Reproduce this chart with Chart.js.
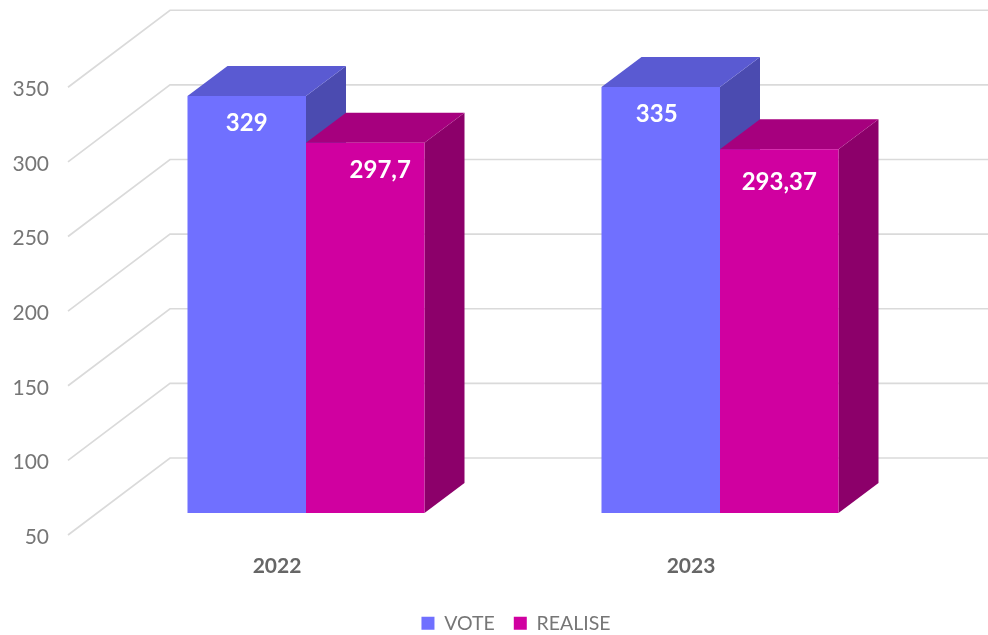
<!DOCTYPE html>
<html>
<head>
<meta charset="utf-8">
<style>html,body{margin:0;padding:0;background:#fff}#wrap{width:988px;height:635px}</style>
<script src="https://cdn.jsdelivr.net/npm/chart.js@4"></script>
</head>
<body>
<div id="wrap"><canvas id="c" width="988" height="635"></canvas></div>
<script>
const categories = ['2022', '2023'];
const voteValues = [329, 335];
const realiseValues = [297.7, 293.37];
const seriesNames = ['VOTE', 'REALISE'];

const FONT = 'Lato, "Open Sans", sans-serif';
const DEPTH_X = 40, DEPTH_Y = -30;          // bar extrusion
const WALL_X = 102, WALL_Y = -77;           // back wall offset
const WALL_LEFT_GAP = 31;                   // front end of floor lines, left of plot
const LEGEND_SHIFT = 22;
const faceColors = [
  {front: '#7070FF', top: '#5A5AD2', side: '#4B4BB0'},
  {front: '#D000A0', top: '#A6007E', side: '#8C006A'}
];
// label nudges from the bar top centre: [dataset][category] = [dx, dy]
const labelNudges = [
  [[0, 27], [-4, 27]],
  [[15, 27], [0, 33]]
];

const legendFit = {
  id: 'legendFit',
  beforeInit(chart) {
    const l = chart.legend, orig = l.fit;
    l.fit = function () { orig.call(this); this.height = 40.5; };
  },
  afterLayout(chart) {
    chart.legend.left += LEGEND_SHIFT;
    chart.legend.right += LEGEND_SHIFT;
  }
};

const walls3d = {
  id: 'walls3d',
  beforeDatasetsDraw(chart) {
    const {ctx, chartArea, scales} = chart;
    const s = scales.yWall, x0 = chartArea.left - WALL_LEFT_GAP;
    ctx.save();
    ctx.strokeStyle = '#dadada';
    ctx.lineWidth = 1.7;
    s.ticks.forEach(t => {
      if (t.value > 350) return;
      const p = s.getPixelForValue(t.value);
      ctx.beginPath();
      ctx.moveTo(x0, p);
      ctx.lineTo(x0 + WALL_X, p + WALL_Y);
      ctx.lineTo(chart.width, p + WALL_Y);
      ctx.stroke();
    });
    // extruded faces, drawn behind the library's front faces
    chart.data.datasets.forEach((ds, di) => {
      const c = faceColors[di];
      chart.getDatasetMeta(di).data.forEach(bar => {
        const l = bar.x - bar.width / 2, r = bar.x + bar.width / 2, t = bar.y, b = bar.base;
        ctx.fillStyle = c.side;
        ctx.beginPath();
        ctx.moveTo(r, t); ctx.lineTo(r + DEPTH_X, t + DEPTH_Y);
        ctx.lineTo(r + DEPTH_X, b + DEPTH_Y); ctx.lineTo(r, b);
        ctx.closePath(); ctx.fill();
        ctx.fillStyle = c.top;
        ctx.beginPath();
        ctx.moveTo(l, t); ctx.lineTo(l + DEPTH_X, t + DEPTH_Y);
        ctx.lineTo(r + DEPTH_X, t + DEPTH_Y); ctx.lineTo(r, t);
        ctx.closePath(); ctx.fill();
      });
    });
    ctx.restore();
  }
};

const valueLabels = {
  id: 'valueLabels',
  afterDatasetsDraw(chart) {
    const {ctx} = chart;
    ctx.save();
    ctx.fillStyle = '#fff';
    ctx.font = 'bold 24px ' + FONT;
    ctx.textAlign = 'center';
    ctx.textBaseline = 'middle';
    chart.data.datasets.forEach((ds, di) => {
      chart.getDatasetMeta(di).data.forEach((bar, i) => {
        const n = labelNudges[di][i];
        ctx.fillText(String(ds.data[i]).replace('.', ','), bar.x + n[0], bar.y + n[1]);
      });
    });
    ctx.restore();
  }
};

new Chart(document.getElementById('c'), {
  type: 'bar',
  data: {
    labels: categories,
    datasets: [
      {label: seriesNames[0], data: voteValues, base: 50, backgroundColor: faceColors[0].front, yAxisID: 'y', categoryPercentage: 0.5725, barPercentage: 1},
      {label: seriesNames[1], data: realiseValues, base: 50, backgroundColor: faceColors[1].front, yAxisID: 'y', categoryPercentage: 0.5725, barPercentage: 1}
    ]
  },
  plugins: [legendFit, walls3d, valueLabels],
  options: {
    responsive: false,
    animation: false,
    layout: {padding: {top: 12.6, right: 0, left: 0, bottom: 0}},
    plugins: {
      tooltip: {enabled: false},
      legend: {
        position: 'bottom',
        labels: {
          boxWidth: 13, boxHeight: 13, padding: 19,
          color: '#767676',
          font: {family: FONT, size: 19.5}
        }
      }
    },
    scales: {
      x: {
        grid: {display: false, drawTicks: false},
        border: {display: false},
        ticks: {
          labelOffset: -29, padding: 19,
          color: '#666666',
          font: {family: FONT, size: 21, weight: 'bold'}
        },
        afterFit(scale) { scale.height = 59.5; scale.paddingLeft = 0; scale.paddingRight = 0; }
      },
      y: {
        display: false,
        min: 35.3,
        max: 384.8
      },
      yWall: {
        position: 'left',
        min: 50,
        max: 400,
        grid: {display: false, drawTicks: false},
        border: {display: false},
        ticks: {
          stepSize: 50,
          padding: 50,
          labelOffset: 2,
          color: '#767676',
          font: {family: FONT, size: 21},
          callback: v => (v > 350 ? '' : v)
        },
        afterFit(scale) { scale.width = 99; scale.paddingTop = 0; scale.paddingBottom = 0; }
      },
      yRightGap: {
        position: 'right',
        grid: {display: false, drawTicks: false},
        border: {display: false},
        ticks: {display: false},
        afterFit(scale) { scale.width = 61; scale.paddingTop = 0; scale.paddingBottom = 0; }
      }
    }
  }
});
</script>
</body>
</html>
